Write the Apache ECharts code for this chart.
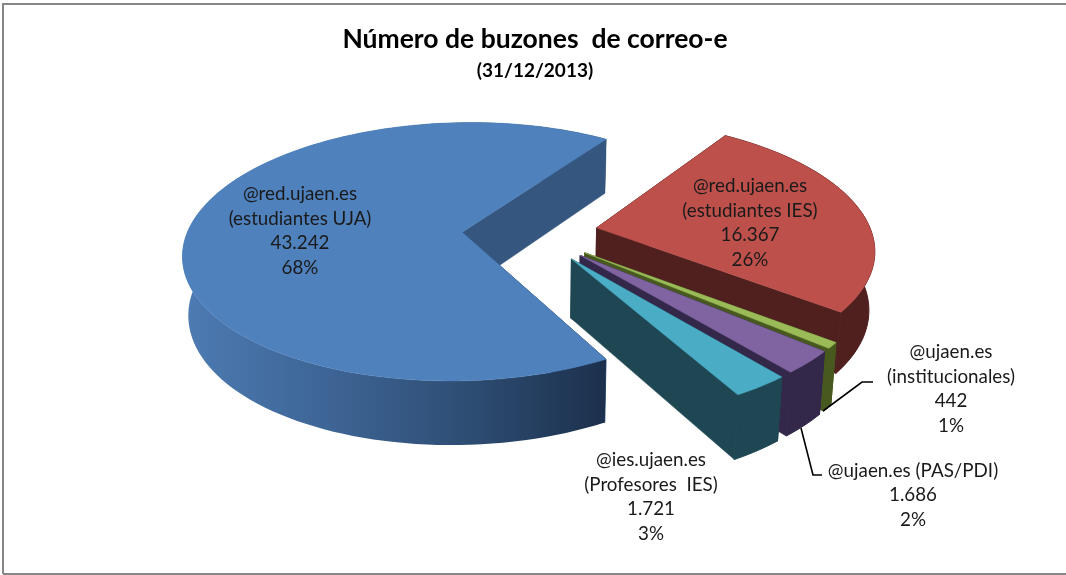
<!DOCTYPE html>
<html>
<head>
<meta charset="utf-8">
<style>html,body{margin:0;padding:0;background:#fff}#c{width:1066px;height:575px}</style>
<script src="https://cdn.jsdelivr.net/npm/echarts@6/dist/echarts.min.js"></script>
</head>
<body>
<div id="c"></div>
<script>
// ---- data ----
const categories = ['@red.ujaen.es\n(estudiantes UJA)', '@red.ujaen.es\n(estudiantes IES)', '@ujaen.es\n(institucionales)', '@ujaen.es (PAS/PDI)', '@ies.ujaen.es\n(Profesores  IES)'];
const mailboxes = [43242, 16367, 442, 1686, 1721];
const valueLabels = ['43.242', '16.367', '442', '1.686', '1.721'];
const percentLabels = ['68%', '26%', '1%', '2%', '3%'];
const topColors = ['#4f81bd', '#be504c', '#9bbb59', '#8064a2', '#4bacc6'];
const faceColors = ['#35567f', '#4f201e', '#48591f', '#33284a', '#1f4753'];

// ---- projection of the tilted pie ----
const cx = 530, cy = 233, R = 275, tilt = 0.46, persp = 0.000548, depth = 58, explode = 68;
const startAngle = 34;      // clockwise from north, where the blue slice ends
const total = mailboxes.reduce((a, b) => a + b, 0);
const f = Y => 1 / (1 + persp * Y);
const topPt = (X, Y) => [cx + X * f(Y), cy - Y * tilt * f(Y)];
const botPt = (X, Y) => [cx + X * f(Y) * 0.983, cy - Y * tilt * f(Y) + depth * (1 + (f(Y) - 1) * 0.6)];

// apparent angle on screen: the original camera bends the sweep slightly
const warpKnots = [[34, 0], [127, 1], [150, 2.2], [394, 0]];
function warp(a) {
  for (let k = 1; k < warpKnots.length; k++) {
    const [a0, w0] = warpKnots[k - 1], [a1, w1] = warpKnots[k];
    if (a <= a1) return a + w0 + (w1 - w0) * (a - a0) / (a1 - a0);
  }
  return a;
}

// slice order clockwise: red, green, purple, teal, blue
const clockOrder = [1, 2, 3, 4, 0];
const range = {};
let acc = startAngle;
clockOrder.forEach(i => {
  const sweep = mailboxes[i] / total * 360;
  range[i] = [acc, acc + sweep];
  acc += sweep;
});
const rad = d => d * Math.PI / 180;

// label placement (screen px) and leaders
const labelCentre = [[300, 231], [750, 223], [951, 389], [913, 495], [651, 497]];
const lineHeight = 24.5;
const leaders = {
  2: [[823, 411], [862, 382], [873, 382]],
  3: [[801, 428], [813, 475], [822, 475]]
};

function renderItem(params, api) {
  const i = params.dataIndex;
  const [a0, a1] = range[i];
  const mid = (a0 + a1) / 2;
  const ox = explode * Math.sin(rad(mid)), oy = explode * Math.cos(rad(mid));
  const rim = a => { const w = warp(a); return [ox + R * Math.sin(rad(w)), oy + R * Math.cos(rad(w))]; };
  const n = Math.max(4, Math.ceil((a1 - a0) / 2));
  const arc = [];
  for (let k = 0; k <= n; k++) arc.push(rim(a0 + (a1 - a0) * k / n));
  const apexT = topPt(ox, oy), apexB = botPt(ox, oy);
  const arcT = arc.map(p => topPt(p[0], p[1]));
  const arcB = arc.map(p => botPt(p[0], p[1]));
  const poly = (points, fill, lw) => ({
    type: 'polygon', shape: { points }, style: { fill, stroke: lw ? fill : null, lineWidth: lw }
  });
  const wallFill = i === 0
    ? { type: 'linear', x: 0, y: 0, x2: 1, y2: 0, colorStops: [
        { offset: 0, color: '#4d7bb3' }, { offset: 0.4, color: '#3b6190' },
        { offset: 0.7, color: '#2c4b70' }, { offset: 1, color: '#1c304c' }] }
    : faceColors[i];
  const children = [
    poly([apexT, arcT[0], arcB[0], apexB], faceColors[i], 1),
    poly(arcT.concat(arcB.slice().reverse()), wallFill, i === 0 ? 0 : 1),
    poly([apexT, arcT[n], arcB[n], apexB], faceColors[i], 0.5),
    poly([apexT].concat(arcT), topColors[i], 0.5)
  ];
  if (leaders[i]) {
    children.push({ type: 'polyline', shape: { points: leaders[i] }, style: { fill: null, stroke: '#000', lineWidth: 1.6 } });
  }
  const txt = [categories[i], valueLabels[i], percentLabels[i]].join('\n');
  children.push({
    type: 'text',
    x: labelCentre[i][0], y: labelCentre[i][1],
    style: { text: txt, fill: '#1a1a1a', font: '18.8px Lato', lineHeight, align: 'center', verticalAlign: 'middle' }
  });
  return { type: 'group', children };
}

const chart = echarts.init(document.getElementById('c'), null, { renderer: 'canvas' });
chart.setOption({
  animation: false,
  backgroundColor: '#fff',
  title: {
    text: 'Número de buzones  de correo-e',
    subtext: '(31/12/2013)',
    left: 530, top: 21, textAlign: 'center', itemGap: 8,
    textStyle: { fontFamily: 'Lato', fontWeight: 'bold', fontSize: 26.5, color: '#000' },
    subtextStyle: { fontFamily: 'Lato', fontWeight: 'bold', fontSize: 19, color: '#000' }
  },
  series: [{
    type: 'custom',
    coordinateSystem: 'none',
    renderItem,
    clip: false,
    data: mailboxes.map((v, i) => ({ name: categories[i], value: [v] }))
  }],
  graphic: [{
    type: 'polyline',
    shape: { points: [[3, 574], [3, 4], [1066, 4]] },
    style: { fill: null, stroke: '#868686', lineWidth: 2 }
  }, {
    type: 'line',
    shape: { x1: 3, y1: 574, x2: 1066, y2: 574 },
    style: { stroke: '#868686', lineWidth: 2 }
  }]
});
</script>
</body>
</html>
